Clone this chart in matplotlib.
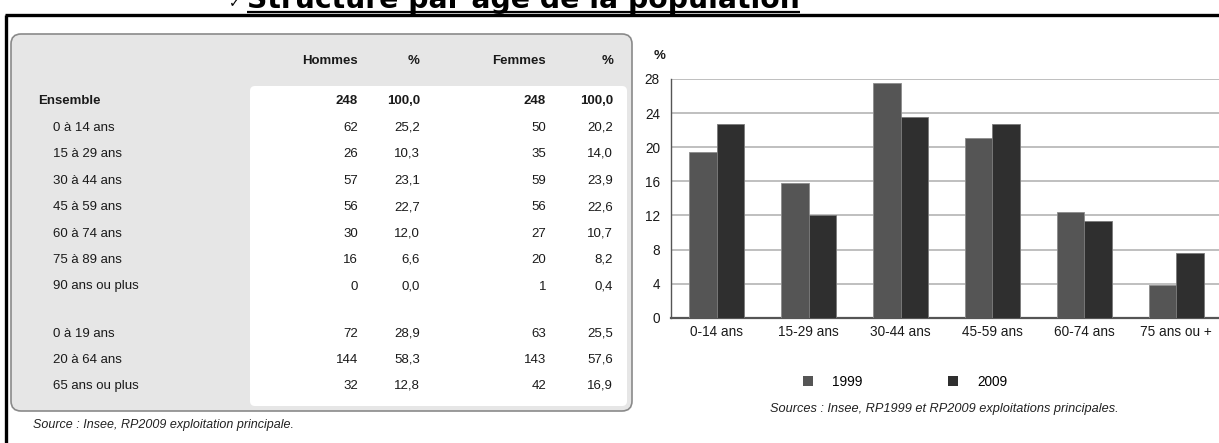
import matplotlib
matplotlib.use("Agg")
import matplotlib.pyplot as plt
import numpy as np
from matplotlib.patches import FancyBboxPatch, Patch

plt.rcParams['font.family'] = ['Liberation Sans', 'DejaVu Sans']

# ---- table data ----
row_labels = ["Ensemble", "0 à 14 ans", "15 à 29 ans", "30 à 44 ans", "45 à 59 ans",
              "60 à 74 ans", "75 à 89 ans", "90 ans ou plus",
              "0 à 19 ans", "20 à 64 ans", "65 ans ou plus"]
hommes = ["248", "62", "26", "57", "56", "30", "16", "0", "72", "144", "32"]
pct_hommes = ["100,0", "25,2", "10,3", "23,1", "22,7", "12,0", "6,6", "0,0", "28,9", "58,3", "12,8"]
femmes = ["248", "50", "35", "59", "56", "27", "20", "1", "63", "143", "42"]
pct_femmes = ["100,0", "20,2", "14,0", "23,9", "22,6", "10,7", "8,2", "0,4", "25,5", "57,6", "16,9"]
col_headers = ["Hommes", "%", "Femmes", "%"]

# ---- bar chart data ----
age_groups = ["0-14 ans", "15-29 ans", "30-44 ans", "45-59 ans", "60-74 ans", "75 ans ou +"]
pop_1999 = [19.4, 15.8, 27.5, 21.1, 12.4, 3.8]
pop_2009 = [22.7, 12.1, 23.5, 22.7, 11.4, 7.6]
y_ticks = [0, 4, 8, 12, 16, 20, 24, 28]

W, H = 1219, 443
fig = plt.figure(figsize=(W / 100, H / 100), dpi=100)
fig.patch.set_facecolor("white")

# overlay axes in pixel units for the page decoration and the table
bg = fig.add_axes([0, 0, 1, 1])
bg.set_xlim(0, W)
bg.set_ylim(H, 0)
bg.axis("off")

# page heading (running off the top edge) and frame lines
bg.text(229, 7, "✓", fontsize=10, fontweight="bold", family="DejaVu Sans",
        ha="left", va="baseline", color="black")
bg.text(247, 8, "Structure par âge de la population", fontsize=20.3, fontweight="bold",
        family="DejaVu Sans", ha="left", va="baseline", color="black")
bg.plot([247, 800], [12, 12], color="black", lw=1.6, solid_capstyle="butt")
bg.plot([5, W], [15, 15], color="black", lw=2.4, solid_capstyle="butt")
bg.plot([6, 6], [15, H], color="black", lw=2.4, solid_capstyle="butt")

# table panel
bg.add_patch(FancyBboxPatch((11, 34), 621, 377, boxstyle="round,pad=0,rounding_size=10",
                            facecolor="#e6e6e6", edgecolor="#8a8a8a", lw=1.2))
bg.add_patch(FancyBboxPatch((250, 86), 377, 320, boxstyle="round,pad=0,rounding_size=5",
                            facecolor="white", edgecolor="none"))

col_right = [358, 420, 546, 613]
header_y = 61
for x, t in zip(col_right, col_headers):
    bg.text(x, header_y, t, fontsize=9.5, fontweight="bold", ha="right", va="center",
            color="#1a1a1a")

row_y = [101, 127.5, 154, 180.5, 207, 233.5, 260, 286.5, 334, 360, 386]
for i, lab in enumerate(row_labels):
    bold = i == 0
    y = row_y[i]
    bg.text(38 if bold else 53, y, lab, fontsize=9.5,
            fontweight="bold" if bold else "normal", ha="left", va="center", color="#1a1a1a")
    for x, vals in zip(col_right, [hommes, pct_hommes, femmes, pct_femmes]):
        bg.text(x, y, vals[i], fontsize=9.5, fontweight="bold" if bold else "normal",
                ha="right", va="center", color="#1a1a1a")

bg.text(33, 425, "Source : Insee, RP2009 exploitation principale.", fontsize=9,
        style="italic", ha="left", va="center", color="#222222")

# ---- bar chart ----
ax_left, ax_right = 671, 1222
ax_top, ax_bottom = 79, 317.7
ax = fig.add_axes([ax_left / W, 1 - ax_bottom / H, (ax_right - ax_left) / W,
                   (ax_bottom - ax_top) / H])
x = np.arange(len(age_groups))
bw = 0.3
ax.bar(x - bw / 2, pop_1999, width=bw, color="#555555", edgecolor="#8c8c8c", lw=0.6,
       zorder=3, label="1999")
ax.bar(x + bw / 2, pop_2009, width=bw, color="#2f2f2f", edgecolor="#7a7a7a", lw=0.6,
       zorder=3, label="2009")
ax.set_xlim(-0.5, 5.5)
ax.set_ylim(0, 28)
ax.set_yticks(y_ticks)
ax.set_xticks(x)
ax.set_xticklabels(age_groups)
ax.yaxis.grid(True, color="#b4b4b4", lw=1.2, zorder=0)
ax.set_axisbelow(True)
for s in ["top", "right"]:
    ax.spines[s].set_visible(False)
ax.spines["left"].set_color("#555555")
ax.spines["left"].set_linewidth(1.0)
ax.spines["bottom"].set_color("#555555")
ax.spines["bottom"].set_linewidth(1.6)
ax.tick_params(axis="both", length=0, labelsize=9.8, labelcolor="#1a1a1a")
ax.tick_params(axis="y", pad=8)
ax.tick_params(axis="x", pad=5)
ax.set_facecolor("white")

bg.text(654, 56, "%", fontsize=9.5, fontweight="bold", ha="left", va="center",
        color="#1a1a1a")

handles = [Patch(facecolor="#555555", edgecolor="none"),
           Patch(facecolor="#2f2f2f", edgecolor="none")]
fig.legend(handles, ["1999", "2009"], loc="center", bbox_to_anchor=(905 / W, 1 - 382 / H),
           ncol=2, frameon=False, fontsize=9.8, handlelength=0.75, handleheight=0.75,
           handletextpad=1.4, columnspacing=6.3)

bg.text(944, 409, "Sources : Insee, RP1999 et RP2009 exploitations principales.",
        fontsize=9.2, style="italic", ha="center", va="center", color="#222222")

fig.savefig("out.png", dpi=100)
